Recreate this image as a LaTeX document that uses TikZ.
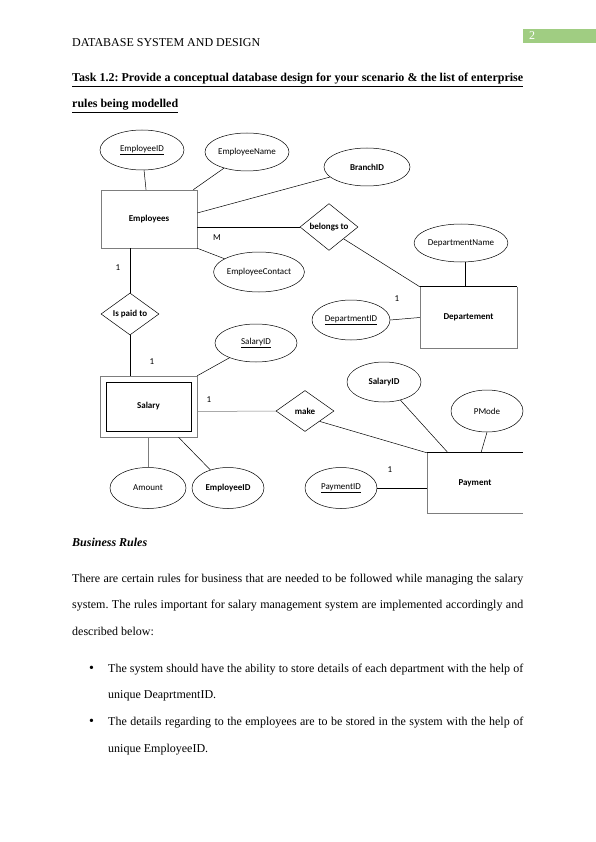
\documentclass[tikz,border=0pt]{standalone}
\usepackage{xcolor}
\usepackage{fontspec}
\setmainfont{Liberation Serif}
\newfontfamily\erfont{Carlito}
\usetikzlibrary{shapes.geometric, positioning, calc}
\definecolor{pagegreen}{RGB}{160, 205, 130}
\definecolor{linegray}{RGB}{125, 125, 125}
\frenchspacing

\tikzset{
    entity/.style={draw=linegray, line width=0.5pt, minimum width=96pt, minimum height=58pt, inner sep=0pt, font=\erfont\bfseries\fontsize{9}{10}\selectfont},
    innerbox/.style={draw, line width=0.9pt, minimum width=85pt, minimum height=49pt, inner sep=0pt, font=\erfont\bfseries\fontsize{9}{10}\selectfont},
    attr/.style={draw, ellipse, line width=0.5pt, inner sep=0pt, font=\erfont\fontsize{9}{10}\selectfont},
    boldattr/.style={attr, font=\erfont\bfseries\fontsize{9}{10}\selectfont},
    relation/.style={draw, diamond, line width=0.5pt, inner sep=0pt, minimum width=58pt, minimum height=41pt, font=\erfont\bfseries\fontsize{9}{10}\selectfont},
    card/.style={inner sep=0pt, font=\erfont\fontsize{9}{10}\selectfont},
    link/.style={line width=0.5pt},
    strong/.style={line width=0.8pt},
    bodyline/.style={anchor=base west, inner sep=0pt, font=\fontsize{12}{14}\selectfont}
}

\begin{document}
\begin{tikzpicture}[x=1pt, y=-1pt]
        \useasboundingbox[fill=white] (0,0) rectangle (596,842);

        \fill[pagegreen] (523,29) rectangle (596,43);
        \node[inner sep=0pt, text=white, font=\fontsize{12}{14}\selectfont] (pagenum) at (532,36) {2};
        \node[bodyline] (header) at (72,47) {DATABASE SYSTEM AND DESIGN};
        \node[bodyline, font=\bfseries\fontsize{12}{14}\selectfont] (title1) at (72,82) {\underline{\makebox[451pt][s]{Task 1.2: Provide a conceptual database design for your scenario \& the list of enterprise}}};
        \node[bodyline, font=\bfseries\fontsize{12}{14}\selectfont] (title2) at (72,108) {\underline{rules being modelled}};

        \node[entity] (emp) at (149,219) {Employees};
        \node[attr, minimum width=84pt, minimum height=40pt] (empid) at (142,150) {\underline{EmployeeID}};
        \node[attr, minimum width=84pt, minimum height=38pt] (empname) at (247,152) {EmployeeName};
        \node[boldattr, minimum width=86pt, minimum height=38pt] (branch) at (367,167) {BranchID};
        \node[relation] (belongs) at (329,227) {belongs to};
        \node[attr, minimum width=88pt, minimum height=38pt] (deptname) at (461,243) {DepartmentName};
        \node[attr, minimum width=88pt, minimum height=40pt] (contact) at (259,272) {EmployeeContact};
        \node[entity, draw=none, minimum width=97pt, minimum height=61pt] (dept) at (468.5,317.5) {Departement};
        \node[attr, minimum width=78pt, minimum height=40pt] (deptid) at (351,320) {\underline{DepartmentID}};
        \node[relation] (paid) at (130,314) {Is paid to};
        \node[attr, minimum width=82pt, minimum height=38pt] (salid) at (256,343) {\underline{SalaryID}};
        \node[entity, minimum width=97pt, minimum height=61pt] (sal) at (148.5,406.5) {};
        \node[innerbox] (salin) at (sal.center) {Salary};
        \node[relation] (make) at (305,411) {make};
        \node[boldattr, minimum width=74pt, minimum height=40pt] (salid2) at (384,382) {SalaryID};
        \node[attr, minimum width=72pt, minimum height=42pt] (pmode) at (487,411) {PMode};
        \node[entity, draw=none, minimum width=96pt, minimum height=60pt] (pay) at (475,483) {Payment};
        \node[attr, minimum width=76pt, minimum height=41pt] (amount) at (148,488) {Amount};
        \node[boldattr, minimum width=72pt, minimum height=41pt] (empid2) at (228,488) {EmployeeID};
        \node[attr, minimum width=72pt, minimum height=41pt] (payid) at (341,488) {\underline{PaymentID}};

        \node[card] (cardm) at (217,238) {M};
        \node[card] (cardemp) at (118,268) {1};
        \node[card] (carddept) at (397,299) {1};
        \node[card] (cardsal) at (152,362) {1};
        \node[card] (cardmake) at (209,400) {1};
        \node[card] (cardpay) at (390,470) {1};

        \draw[strong] (dept.north west) -- (dept.north east);
        \draw[link, linegray] (dept.north east) -- (dept.south east) -- (dept.south west) -- (dept.north west);
        \draw[strong] (pay.north west) -- (pay.north east);
        \draw[link, linegray] (pay.north west) -- (pay.south west) -- (pay.south east);

        \draw[link] (empid) -- (emp);
        \draw[link] (empname) -- ([xshift=-4pt]emp.north east);
        \draw[link] ([yshift=6pt]emp.east) -- (branch);
        \draw[strong] ([yshift=-8pt]emp.east) -- (belongs.west);
        \draw[link] (belongs.south east) -- (dept.north west);
        \draw[link] ([xshift=4pt]deptname.south) -- ([xshift=4pt]deptname.south |- dept.north);
        \draw[link] (emp.south east) -- (contact);
        \draw[strong] ([xshift=-19pt]emp.south) -- (paid.north);
        \draw[strong] (paid.south) -- (paid.south |- sal.north);
        \draw[link] (salid) -- (sal.north east);
        \draw[link] (dept.west) -- (deptid.east);
        \draw[link, linegray] ([yshift=-5pt]sal.east) -- (make.west);
        \draw[link] (make.south east) -- (pay.north west);
        \draw[link] (salid2) -- ([xshift=-27pt]pay.north);
        \draw[link] (pmode.south) -- ([xshift=6pt]pay.north);
        \draw[link] (payid.east) -- (payid.east -| pay.west);
        \draw[link, linegray] (amount.north) -- (amount.north |- sal.south);
        \draw[link] (empid2) -- ([xshift=30pt]sal.south);

        \node[bodyline, font=\bfseries\itshape\fontsize{12}{14}\selectfont] (rules) at (72,546) {Business Rules};
        \node[bodyline] (para1) at (72,582) {\makebox[451pt][s]{There are certain rules for business that are needed to be followed while managing the salary}};
        \node[bodyline] (para2) at (72,608) {\makebox[451pt][s]{system. The rules important for salary management system are implemented accordingly and}};
        \node[bodyline] (para3) at (72,635) {described below:};
        \node[bodyline, font=\fontsize{14}{14}\selectfont] (bullet1) at (89,672) {\textbullet};
        \node[bodyline] (item1a) at (108,672) {\makebox[415pt][s]{The system should have the ability to store details of each department with the help of}};
        \node[bodyline] (item1b) at (108,698) {unique DeaprtmentID.};
        \node[bodyline, font=\fontsize{14}{14}\selectfont] (bullet2) at (89,725) {\textbullet};
        \node[bodyline] (item2a) at (108,725) {\makebox[415pt][s]{The details regarding to the employees are to be stored in the system with the help of}};
        \node[bodyline] (item2b) at (108,752) {unique EmployeeID.};
    \end{tikzpicture}
\end{document}
